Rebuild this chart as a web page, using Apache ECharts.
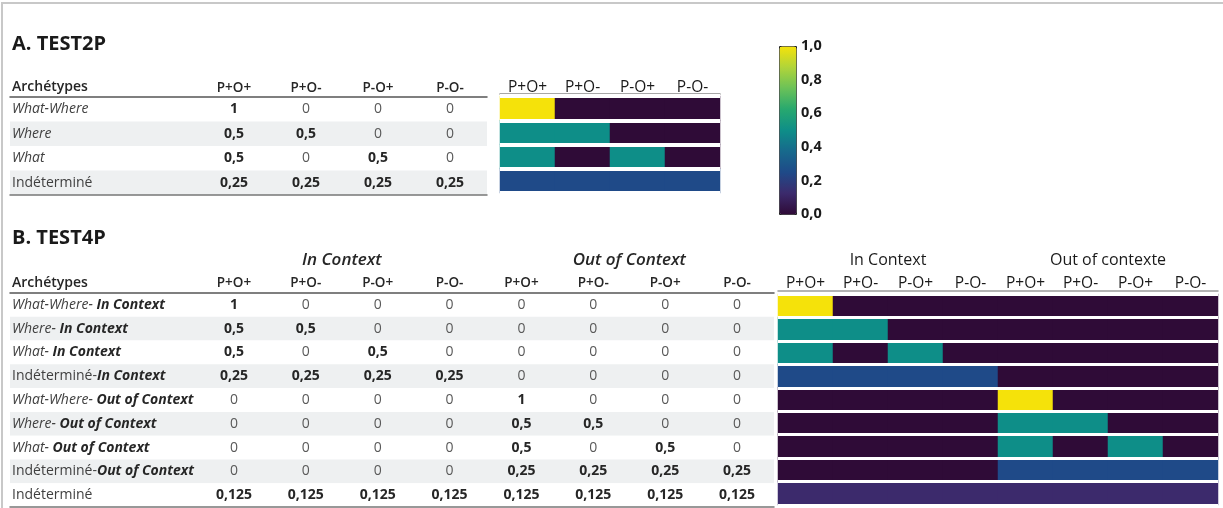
<!DOCTYPE html>
<html><head><meta charset="utf-8">
<script src="https://cdn.jsdelivr.net/npm/echarts@6/dist/echarts.min.js"></script>
<style>
html,body{margin:0;padding:0;background:#fff;}
#wrap{position:relative;width:1223px;height:508px;}
#chart{position:absolute;left:0;top:0;width:1223px;height:508px;}
.bl{position:absolute;left:1px;top:2px;width:2px;height:506px;background:#c8c8c8;}
.bt{position:absolute;left:1px;top:2px;width:1222px;height:2px;background:#c8c8c8;}
</style></head>
<body><div id="wrap"><div id="chart"></div><div class="bl"></div><div class="bt"></div></div>
<script>
// ---- data ----
const titleA = 'A. TEST2P';
const titleB = 'B. TEST4P';
const headerLabel = 'Archétypes';
const colsA = ['P+O+', 'P+O-', 'P-O+', 'P-O-'];
const rowsA = ['What-Where', 'Where', 'What', 'Indéterminé'];
const valuesA = [
  [1, 0, 0, 0],
  [0.5, 0.5, 0, 0],
  [0.5, 0, 0.5, 0],
  [0.25, 0.25, 0.25, 0.25]
];
const colsB = ['P+O+', 'P+O-', 'P-O+', 'P-O-', 'P+O+', 'P+O-', 'P-O+', 'P-O-'];
const groupsB = ['In Context', 'Out of Context'];
const groupsHeatB = ['In Context', 'Out of contexte'];
const rowsB = [
  'What-Where-| In Context',
  'Where-| In Context',
  'What-| In Context',
  'Indéterminé-|In Context',
  'What-Where-| Out of Context',
  'Where-| Out of Context',
  'What-| Out of Context',
  'Indéterminé-|Out of Context',
  'Indéterminé'
];
const valuesB = [
  [1, 0, 0, 0, 0, 0, 0, 0],
  [0.5, 0.5, 0, 0, 0, 0, 0, 0],
  [0.5, 0, 0.5, 0, 0, 0, 0, 0],
  [0.25, 0.25, 0.25, 0.25, 0, 0, 0, 0],
  [0, 0, 0, 0, 1, 0, 0, 0],
  [0, 0, 0, 0, 0.5, 0.5, 0, 0],
  [0, 0, 0, 0, 0.5, 0, 0.5, 0],
  [0, 0, 0, 0, 0.25, 0.25, 0.25, 0.25],
  [0.125, 0.125, 0.125, 0.125, 0.125, 0.125, 0.125, 0.125]
];
const colorTicks = [0, 0.2, 0.4, 0.6, 0.8, 1.0];
// ---- helpers ----
const FONT = 'Open Sans';
function toCells(m) {
  const out = [];
  m.forEach((row, r) => row.forEach((v, c) => out.push([c, r, v])));
  return out;
}
function fmtNum(v) { return String(v).replace('.', ','); }
const rowRich = {
  it: {fontFamily: FONT, fontSize: 14, fontStyle: 'italic', color: '#404040'},
  nm: {fontFamily: FONT, fontSize: 14, color: '#404040'},
  bi: {fontFamily: FONT, fontSize: 14, fontStyle: 'italic', fontWeight: 'bold', color: '#262626'}
};
function rowFmt(name) {
  const parts = name.split('|');
  const pre = parts[0];
  const preStyle = pre.indexOf('Indéterminé') === 0 ? 'nm' : 'it';
  let s = '{' + preStyle + '|' + pre + '}';
  if (parts.length > 1) s += '{bi|' + parts[1] + '}';
  return s;
}
const cellLabel = {
  show: true,
  formatter: p => p.value[2] === 0 ? '{z|0}' : '{b|' + fmtNum(p.value[2]) + '}',
  rich: {
    z: {fontFamily: FONT, fontSize: 14, color: '#595959'},
    b: {fontFamily: FONT, fontSize: 14, fontWeight: 'bold', color: '#262626'}
  }
};
const hidden = {show: false};
function lineAxis(grid, pos, color) {
  return {gridIndex: grid, type: 'value', min: 0, max: 1, position: pos,
    axisLine: {show: true, onZero: false, lineStyle: {color: color, width: 1.5}},
    axisTick: hidden, axisLabel: hidden, splitLine: hidden};
}
function headAxis(grid, data, opts) {
  return Object.assign({gridIndex: grid, type: 'category', data: data, position: 'top',
    axisLine: hidden, axisTick: hidden, splitLine: hidden,
    axisLabel: {fontFamily: FONT, fontSize: 13.5, fontWeight: 600, color: '#262626', margin: 2, interval: 0}}, opts || {});
}
function bgYAxis(grid, rows) {
  return {gridIndex: grid, type: 'category', data: rows, inverse: true,
    axisLine: hidden, axisTick: hidden, splitLine: hidden,
    splitArea: {show: true, areaStyle: {color: ['#ffffff', '#eef0f1']}},
    axisLabel: {inside: true, margin: 2, formatter: rowFmt, rich: rowRich},
    name: headerLabel, nameLocation: 'start', nameGap: 3,
    nameTextStyle: {fontFamily: FONT, fontSize: 14, fontWeight: 600, color: '#262626', align: 'left', padding: [0, 0, 0, 2]}};
}
function hideY(grid, rows) {
  return {gridIndex: grid, type: 'category', data: rows, inverse: true, show: false};
}
function heatY(grid, rows, w) {
  return {gridIndex: grid, type: 'category', data: rows, inverse: true, z: 5,
    axisLine: hidden, axisTick: hidden, axisLabel: hidden,
    splitLine: {show: true, lineStyle: {color: '#ffffff', width: w}}};
}
const viridis = ['#2f0b37', '#3c2a6c', '#1f4a88', '#17698c', '#0e8e88', '#27a86f', '#6ac158', '#b0d43a', '#f5e20a'];

const option = {
  backgroundColor: '#ffffff',
  animation: false,
  title: [
    {text: titleA, left: 7, top: 29, textStyle: {fontFamily: FONT, fontSize: 20, fontWeight: 'bold', color: '#1a1a1a'}},
    {text: titleB, left: 7, top: 223, textStyle: {fontFamily: FONT, fontSize: 20, fontWeight: 'bold', color: '#1a1a1a'}}
  ],
  grid: [
    {left: 10, top: 97, width: 477, height: 98},   // 0 bg A
    {left: 198, top: 97, width: 288, height: 98},  // 1 values A
    {left: 500, top: 96, width: 220, height: 97},  // 2 heat A
    {left: 779, top: 46, width: 17, height: 168},  // 3 colorbar axis
    {left: 10, top: 293, width: 764, height: 214}, // 4 bg B
    {left: 198, top: 293, width: 575, height: 214},// 5 values B
    {left: 778, top: 294, width: 440, height: 211} // 6 heat B
  ],
  xAxis: [
    lineAxis(0, 'top', '#555555'),
    lineAxis(0, 'bottom', '#777777'),
    headAxis(1, colsA),
    headAxis(2, colsA, {axisLine: {show: true, lineStyle: {color: '#8a8a8a', width: 1.5}}, offset: 2,
      axisLabel: {fontFamily: FONT, fontSize: 15.5, color: '#1a1a1a', margin: -2, interval: 0}}),
    {gridIndex: 3, type: 'value', show: false},
    lineAxis(4, 'top', '#555555'),
    lineAxis(4, 'bottom', '#777777'),
    headAxis(5, colsB, {axisLabel: {fontFamily: FONT, fontSize: 13.5, fontWeight: 600, color: '#262626', margin: 3, interval: 0}}),
    headAxis(5, groupsB, {offset: 21, axisLabel: {fontFamily: FONT, fontSize: 17, fontWeight: 600, fontStyle: 'italic', color: '#262626', margin: 3, interval: 0}}),
    headAxis(6, colsB, {axisLine: {show: true, lineStyle: {color: '#9a9a9a', width: 1.5}}, offset: 3,
      axisLabel: {fontFamily: FONT, fontSize: 15.5, color: '#1a1a1a', margin: -1, interval: 0}}),
    headAxis(6, groupsHeatB, {offset: 23, axisLabel: {fontFamily: FONT, fontSize: 16, color: '#1a1a1a', margin: 3, interval: 0}})
  ],
  yAxis: [
    bgYAxis(0, rowsA),
    hideY(1, rowsA),
    heatY(2, rowsA, 4),
    {gridIndex: 3, type: 'value', min: 0, max: 1, interval: 0.2, position: 'right',
      axisLine: hidden, axisTick: hidden, splitLine: hidden,
      axisLabel: {fontFamily: FONT, fontSize: 14.5, fontWeight: 'bold', color: '#1a1a1a', margin: 5,
        formatter: v => v.toFixed(1).replace('.', ',')}},
    bgYAxis(4, rowsB),
    hideY(5, rowsB),
    heatY(6, rowsB, 3)
  ],
  visualMap: {
    type: 'continuous', min: 0, max: 1, seriesIndex: [1, 3], calculable: false,
    orient: 'vertical', left: 779, top: 46, itemWidth: 17, itemHeight: 168, padding: 0,
    borderColor: '#222222', borderWidth: 1, text: null,
    inRange: {color: viridis}
  },
  series: [
    {type: 'heatmap', xAxisIndex: 2, yAxisIndex: 1, data: toCells(valuesA),
      itemStyle: {color: 'rgba(0,0,0,0)'}, label: cellLabel, emphasis: {disabled: true}, silent: true},
    {type: 'heatmap', xAxisIndex: 3, yAxisIndex: 2, data: toCells(valuesA),
      label: {show: false}, emphasis: {disabled: true}, silent: true},
    {type: 'heatmap', xAxisIndex: 7, yAxisIndex: 5, data: toCells(valuesB),
      itemStyle: {color: 'rgba(0,0,0,0)'}, label: cellLabel, emphasis: {disabled: true}, silent: true},
    {type: 'heatmap', xAxisIndex: 9, yAxisIndex: 6, data: toCells(valuesB),
      label: {show: false}, emphasis: {disabled: true}, silent: true}
  ]
};
const chart = echarts.init(document.getElementById('chart'), null, {renderer: 'canvas'});
chart.setOption(option);
</script></body></html>
